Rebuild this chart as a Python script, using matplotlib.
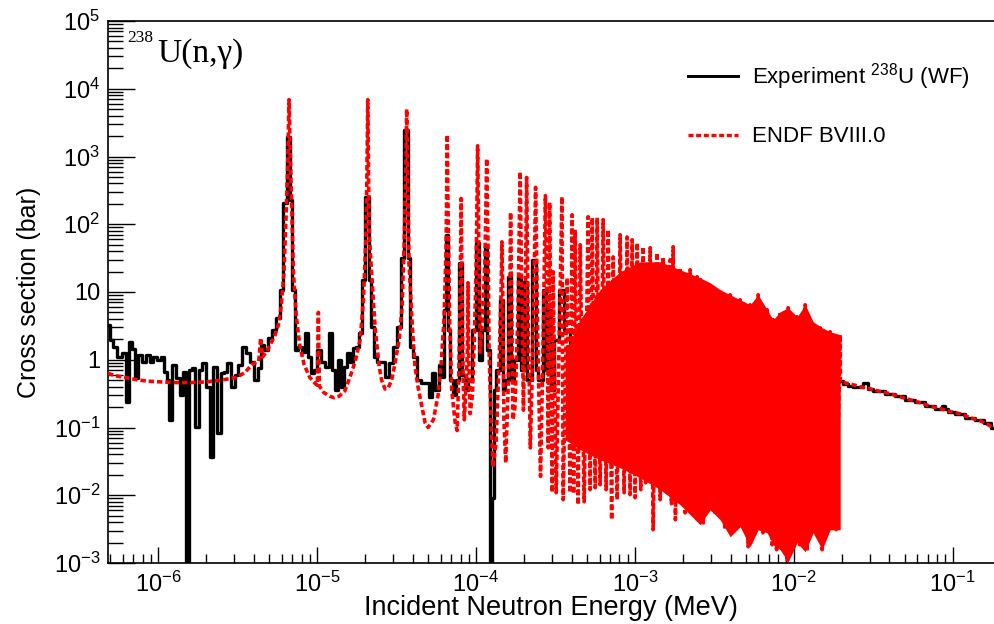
import numpy as np
import matplotlib
matplotlib.use("Agg")
import matplotlib.pyplot as plt
from matplotlib.ticker import FixedLocator, FixedFormatter, LogLocator, NullFormatter
from matplotlib.lines import Line2D

plt.rcParams["font.family"] = ["Liberation Sans", "DejaVu Sans"]
plt.rcParams["mathtext.fontset"] = "custom"
plt.rcParams["mathtext.rm"] = "Liberation Sans"
plt.rcParams["mathtext.it"] = "Liberation Sans:italic"
plt.rcParams["mathtext.bf"] = "Liberation Sans:bold"
plt.rcParams["mathtext.default"] = "regular"

# ---------------------------------------------------------------- data ----
# Measured capture cross section (energy in eV, cross section in barn)
exp_energy_eV = [
    0.4845, 0.506, 0.536, 0.568, 0.611, 0.638, 0.666, 0.706, 0.727, 0.759,
    0.816, 0.865, 0.903, 0.957, 1.015, 1.06, 1.107, 1.156, 1.19, 1.261,
    1.336, 1.395, 1.458, 1.522, 1.59, 1.661, 1.76, 1.838, 1.948, 2.064,
    2.156, 2.285, 2.421, 2.528, 2.641, 2.798, 2.965, 3.097, 3.281, 3.477,
    3.684, 3.904, 4.137, 4.321, 4.513, 4.782, 5.067, 5.37, 5.69, 5.942,
    6.21, 6.67, 6.9, 7.07, 7.39, 7.83, 8.18, 8.54, 8.92, 9.32,
    9.73, 10.31, 10.92, 11.57, 12.09, 12.81, 13.19, 13.78, 14.38, 15.03,
    15.69, 16.39, 17.12, 17.88, 18.67, 19.50, 20.87, 21.5, 22.23, 23.21,
    24.60, 26.06, 27.62, 29.27, 31.01, 32.86, 34.32, 36.68, 37.6, 39.10,
    41.43, 43.90, 46.52, 49.30, 51.49, 53.78, 56.99, 59.52, 62.17, 64.5,
    66.03, 66.86, 69.83, 72.93, 76.15, 80.75, 83.07, 86.77, 91.94, 97.4,
    102.5, 106.3, 111.0, 116.9, 119.4, 124.6, 128.0, 130.2, 135.9, 145.7,
    148.3, 154.9, 165.3, 169.0, 176.5, 189.7, 192.5, 208.5, 213.1, 237.4,
    239.2, 253.5, 273.7, 276.6, 291.0, 301.7, 319.7, 347.8, 364, 421,
    486, 563, 650, 752, 869, 1080, 1443, 1928, 2576, 3980,
    6145, 9490, 14660, 17450, 19600, 21000, 22600, 24300, 26200, 28600,
    30300, 32600, 35000, 40500, 46700, 54000, 62400, 72200, 83400, 87000,
    91000, 96400, 111000, 129000, 149000, 165000, 182000, 200000,
]
exp_xs_b = [
    3.28, 1.97, 1.56, 1.107, 1.27, 0.24, 1.84, 1.45, 0.542, 1.185,
    0.934, 1.185, 0.934, 1.107, 1.0, 1.107, 0.665, 0.507, 0.13, 0.844,
    0.542, 0.305, 0.665, 0.001, 0.712, 0.762, 0.103, 0.712, 0.903, 0.40,
    0.037, 0.788, 0.084, 0.643, 0.665, 0.903, 0.40, 0.60, 0.844, 1.56,
    1.27, 0.934, 0.507, 0.762, 1.66, 1.40, 2.11, 2.77, 4.17, 10.8,
    208, 1956, 230, 10.8, 1.4, 1.56, 1.31, 2.50, 1.107, 0.643,
    0.712, 1.40, 0.934, 0.788, 2.50, 0.712, 0.36, 1.0, 0.40, 0.788,
    1.27, 0.934, 1.50, 1.56, 2.50, 15.2, 255, 15.2, 3.07, 1.107,
    0.934, 0.934, 0.561, 0.903, 1.56, 3.07, 32, 2483, 32, 1.56,
    1.107, 0.507, 0.458, 0.458, 0.284, 0.643, 0.36, 0.844, 0.561, 5.47,
    70, 2.77, 0.507, 0.305, 0.507, 27, 0.60, 0.36, 0.507, 2.77,
    53, 1.0, 2.77, 48, 1.40, 0.001, 0.0092, 0.36, 0.712, 7.68,
    0.36, 0.507, 16.8, 0.507, 1.0, 16.8, 0.712, 14.1, 0.507, 30,
    0.712, 0.507, 10.8, 0.712, 5.47, 0.36, 1.97, 10.8, 2.77, 0.36,
    1.97, 0.507, 2.77, 0.257, 1.4, 0.507, 1.0, 0.507, 0.71, 0.507,
    0.6, 0.507, 0.54, 0.507, 0.48, 0.44, 0.41, 0.39, 0.40, 0.46,
    0.37, 0.35, 0.345, 0.31, 0.29, 0.255, 0.235, 0.205, 0.19, 0.21,
    0.185, 0.172, 0.158, 0.14, 0.127, 0.115, 0.10, 0.095,
]

# Evaluated ENDF/B-VIII.0 curve (energy in eV, cross section in barn)
endf_energy_eV = [
    0.484, 0.54, 0.64, 0.76, 0.90, 1.06, 1.30, 1.60, 2.0, 2.5,
    3.1, 3.5, 3.9, 4.3, 4.42, 4.55, 4.8, 5.1, 5.4, 5.7,
    5.95, 6.2, 6.4, 6.55, 6.67, 6.8, 6.95, 7.1, 7.4, 7.8,
    8.3, 9.0, 9.7, 10.05, 10.2, 10.35, 11.0, 12.0, 12.8, 13.8,
    15.0, 16.4, 17.5, 18.7, 19.6, 20.3, 20.6, 20.87, 21.1, 21.4,
    22.2, 23.2, 24.6, 25.5, 26.8, 28.0, 29.5, 31.0, 32.9, 34.3,
    35.3, 36.2, 36.68, 37.2, 37.9, 39.9, 41.4, 43.2, 45.8, 47.9,
    50.0, 54.0, 57.8, 60.5, 63.0, 64.8, 65.6, 66.03, 66.5, 67.3,
    68.5, 70.5, 74.0, 76.2, 78.0, 79.5, 80.3, 80.75, 81.2, 82.0,
    83.0, 84.5, 87.0, 88.5, 89.2, 89.9, 92.0, 95.0, 98.0, 100.5,
    102.5, 104.5, 106.3, 110.0, 114.0, 116.9, 119.5, 121.0, 124.5, 128.0,
    134.0, 140.0, 144.0, 145.7, 147.5, 150.0, 154.0, 160.0, 164.0, 165.3,
    167.0, 171.0, 176.0, 184.0, 189.7, 195.0, 199.0, 204.0, 208.5, 213.0,
    220.0, 230.0, 237.4, 245.0, 255.0, 265.0, 273.7, 281.0, 285.0, 291.0,
    297.0, 302.0, 306.0, 320.0, 347.8, 354, 375, 391, 403, 412,
    421, 440, 453, 480, 508, 523, 539, 563, 579, 605,
    632, 660, 679, 715, 730, 774, 808, 856, 894, 934,
    962, 1004, 1034, 1090, 1128, 1170, 1249, 1304, 1382, 1443,
    1507, 1597, 1668, 1700, 1742, 1800, 1928, 2073, 2228, 2328,
    2467, 2520, 2576, 2690, 2978, 3201, 3442, 3701, 3980, 4280,
    4600, 5165, 5317, 5600, 5970, 6400, 6800, 7310, 7420, 7800,
    8210, 9090, 9220, 9910, 10500, 10970, 11800, 12140, 12680, 13250,
    14660, 15090, 16950, 18490, 19600, 19650, 22600, 26200, 30300, 35000,
    40500, 46700, 54000, 62400, 72200, 83400, 96400, 111000, 129000, 149000,
    182000, 200000,
]
endf_xs_b = [
    0.63, 0.58, 0.54, 0.50, 0.48, 0.47, 0.46, 0.46, 0.47, 0.50,
    0.55, 0.64, 0.85, 0.95, 2.1, 1.1, 1.3, 1.7, 2.2, 3.2,
    6.0, 20, 150, 900, 6900, 900, 150, 20, 4.5, 1.6,
    0.85, 0.55, 0.45, 0.42, 5.0, 0.41, 0.33, 0.29, 0.275, 0.29,
    0.35, 0.62, 1.0, 2.0, 7.7, 60, 500, 6900, 500, 60,
    15, 3.0, 0.8, 0.5, 0.37, 0.38, 0.5, 0.9, 2.0, 6.0,
    47, 600, 5000, 600, 27, 2.8, 0.79, 0.40, 0.20, 0.117,
    0.10, 0.13, 0.30, 0.9, 4.0, 40, 400, 2100, 400, 40,
    3.0, 0.35, 0.12, 0.09, 0.6, 8.0, 60, 240, 60, 8.0,
    0.6, 0.13, 0.5, 1.5, 13.7, 1.5, 0.16, 0.3, 2.5, 30,
    1440, 30, 1.3, 3.9, 30, 930, 30, 1.3, 0.13, 0.026,
    0.06, 1.0, 10, 55, 10, 0.13, 0.03, 0.5, 20, 150,
    20, 0.13, 0.2, 5.0, 595, 5.0, 0.18, 4.0, 490, 4.0,
    0.05, 3.0, 350, 2.0, 0.019, 2.0, 265, 3.0, 0.05, 210,
    0.5, 0.011, 19.9, 0.0109, 255, 0.0086, 16.2, 0.0109, 138, 0.0105,
    83, 0.00724, 49.8, 0.0080, 129, 0.0121, 125, 0.0129, 125, 0.0143,
    117, 0.0121, 83, 0.00435, 33, 0.0086, 70, 0.0109, 65, 0.0102,
    59, 0.0092, 53, 0.0121, 46.5, 0.0153, 45, 0.0031, 37.9, 0.0086,
    33, 0.0109, 29.9, 0.0075, 46.5, 0.00435, 22.8, 0.0055, 21.3, 0.0061,
    16.8, 0.005, 16.2, 0.00367, 13.7, 0.00515, 10.8, 0.0031, 9.1, 0.00343,
    7.68, 0.00174, 6.48, 0.0031, 9.1, 0.00279, 5.47, 0.00186, 3.9, 0.00157,
    5.1, 0.00104, 5.86, 0.00199, 4.31, 0.0017, 6.48, 0.00147, 3.64, 0.00279,
    2.97, 0.00157, 2.59, 0.0031, 2.34, 0.47, 0.44, 0.40, 0.37, 0.34,
    0.315, 0.284, 0.257, 0.232, 0.206, 0.19, 0.172, 0.16, 0.139, 0.126,
    0.099, 0.095,
]

# Envelope of the densely overlapping ENDF resonances (eV, barn)
band_energy_eV = [364, 453, 605, 808, 1080, 1443, 1928, 2576, 2978, 3442,
                  3980, 4600, 5317, 5970, 6800, 7420, 8210, 9220, 10500,
                  11800, 13250, 15090, 16950, 19600]
band_low_b = [0.066, 0.047, 0.0334, 0.0255, 0.0181, 0.0121, 0.00724, 0.00367,
              0.0061, 0.00435, 0.00244, 0.00343, 0.00174, 0.0031, 0.00279,
              0.00186, 0.00157, 0.00104, 0.00199, 0.00147, 0.00279, 0.00157,
              0.0031, 0.0031]
band_high_b = [1.31, 3.9, 10.8, 19.9, 27.9, 27.9, 21.3, 16.2, 13.7, 10.8,
               9.1, 7.68, 6.48, 9.1, 5.47, 3.9, 5.1, 5.86, 4.31, 6.48, 3.64,
               2.97, 2.59, 2.34]

x_ticks_MeV = [1e-6, 1e-5, 1e-4, 1e-3, 1e-2, 1e-1]
x_tick_labels = [r"$10^{-6}$", r"$10^{-5}$", r"$10^{-4}$", r"$10^{-3}$",
                 r"$10^{-2}$", r"$10^{-1}$"]
y_ticks_b = [1e-3, 1e-2, 1e-1, 1, 10, 1e2, 1e3, 1e4, 1e5]
y_tick_labels = [r"$10^{-3}$", r"$10^{-2}$", r"$10^{-1}$", "1", "10",
                 r"$10^{2}$", r"$10^{3}$", r"$10^{4}$", r"$10^{5}$"]

EV_TO_MEV = 1e-6

# ---------------------------------------------------------------- plot ----
W, H = 994, 624
fig = plt.figure(figsize=(W / 100, H / 100), dpi=100)
ax = fig.add_axes([108 / W, 1 - 563 / H, 1 - 108 / W, (563 - 21) / H])

red_dots = (0, (1.5, 0.8))

ax.plot(np.array(exp_energy_eV) * EV_TO_MEV, exp_xs_b, color="black",
        lw=2.4, drawstyle="steps-mid", zorder=2)
ax.fill_between(np.array(band_energy_eV) * EV_TO_MEV, band_low_b, band_high_b,
                color="red", lw=0, zorder=3)
ax.plot(np.array(endf_energy_eV) * EV_TO_MEV, endf_xs_b, color="red",
        lw=2.6, linestyle=red_dots, zorder=4)

ax.set_xscale("log")
ax.set_yscale("log")
ax.set_xlim(4.84e-7, 0.182)
ax.set_ylim(1e-3, 1e5)

ax.xaxis.set_major_locator(FixedLocator(x_ticks_MeV))
ax.xaxis.set_major_formatter(FixedFormatter(x_tick_labels))
ax.yaxis.set_major_locator(FixedLocator(y_ticks_b))
ax.yaxis.set_major_formatter(FixedFormatter(y_tick_labels))
for axis in (ax.xaxis, ax.yaxis):
    axis.set_minor_locator(LogLocator(base=10, subs=np.arange(2, 10), numticks=100))
    axis.set_minor_formatter(NullFormatter())

ax.tick_params(axis="y", which="major", direction="in", length=19.4, width=1,
               labelsize=17, pad=5.5, right=False)
ax.tick_params(axis="y", which="minor", direction="in", length=10.8, width=1,
               right=False)
ax.tick_params(axis="x", which="major", direction="in", length=11.5, width=1,
               labelsize=17, pad=6, top=False)
ax.tick_params(axis="x", which="minor", direction="in", length=6.5, width=1,
               top=False)

for side in ("left", "bottom", "top"):
    ax.spines[side].set_linewidth(1.2)
ax.spines["right"].set_visible(False)

ax.set_xlabel("Incident Neutron Energy (MeV)", fontsize=19.5, labelpad=-1)
ax.set_ylabel("Cross section (bar)", fontsize=18, labelpad=9)

# reaction label
fig.text(127 / W, 1 - 42 / H, "238", family="Liberation Serif", fontsize=12.5,
         ha="left", va="baseline")
fig.text(157 / W, 1 - 62 / H, "U(n,\u03b3)", family="Liberation Serif",
         fontsize=24, ha="left", va="baseline")

handles = [
    Line2D([], [], color="black", lw=2.1),
    Line2D([], [], color="red", lw=2.4, linestyle=red_dots),
]
labels = [r"Experiment $^{238}$U (WF)", "ENDF BVIII.0"]
ax.legend(handles, labels, loc="upper left", bbox_to_anchor=(688 / W, 1 - 61 / H),
          bbox_transform=fig.transFigure, frameon=False, fontsize=16,
          handlelength=2.25, handletextpad=0.62, labelspacing=1.55,
          borderpad=0, borderaxespad=0)

fig.savefig("out.png", dpi=100)
